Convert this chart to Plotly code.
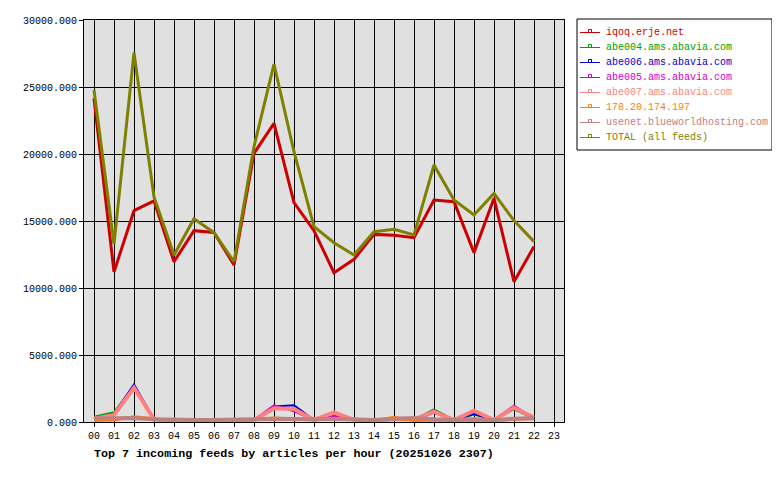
import plotly.graph_objects as go

hours = ["%02d" % h for h in range(24)]
x_idx = list(range(23))

iqoq = [24150, 11200, 15770, 16500, 11960, 14280, 14150, 11720, 20050, 22290, 16370, 14280, 11140, 12140, 14000, 13930, 13760, 16570, 16440, 12640, 16690, 10470, 13090]
abe004 = [400, 720, 2700, 200, 80, 100, 100, 100, 150, 1100, 1000, 150, 350, 150, 100, 200, 150, 940, 150, 550, 150, 950, 250]
abe006 = [250, 600, 2810, 200, 80, 100, 100, 100, 150, 1150, 1250, 150, 300, 150, 100, 200, 150, 700, 150, 600, 150, 1150, 250]
abe005 = [300, 550, 2650, 200, 80, 100, 200, 100, 150, 1250, 800, 150, 470, 150, 150, 200, 150, 700, 150, 750, 150, 1220, 300]
abe007 = [250, 520, 2560, 200, 80, 100, 100, 100, 150, 1020, 970, 150, 720, 150, 100, 200, 200, 770, 150, 850, 150, 1070, 330]
ip178 = [120, 150, 400, 270, 100, 100, 100, 100, 150, 300, 200, 150, 270, 200, 100, 350, 100, 150, 100, 150, 100, 200, 250]
usenet = [270, 250, 300, 200, 150, 150, 150, 150, 200, 250, 200, 200, 250, 200, 150, 250, 300, 200, 150, 200, 150, 250, 300]
total = [24780, 13280, 27560, 16800, 12460, 15170, 14130, 11960, 20550, 26700, 20170, 14580, 13380, 12460, 14200, 14380, 13960, 19180, 16570, 15450, 17060, 15030, 13460]

names = ["iqoq.erje.net", "abe004.ams.abavia.com", "abe006.ams.abavia.com", "abe005.ams.abavia.com",
         "abe007.ams.abavia.com", "178.20.174.197", "usenet.blueworldhosting.com", "TOTAL (all feeds)"]
series = [iqoq, abe004, abe006, abe005, abe007, ip178, usenet, total]
colors = ["#cc0000", "#00a000", "#0000cc", "#cc00cc", "#ff8080", "#ff8000", "#c08080", "#808000"]
widths = [3, 2, 2, 2, 4, 3, 4, 3]

FONT = "Liberation Mono, DejaVu Sans Mono, monospace"

# The page body has an 8px margin; target page-pixel geometry is shifted by it.
OFF = 8
W, H = 780, 480
PL, PR, PT, PB = 84, 564, 20, 422      # plot area edges in page pixels
L, T = PL - OFF, PT - OFF
R, B = W - (PR - OFF), H - (PB - OFF)
PW, PH = PR - PL, PB - PT


def px(xp):
    return (xp - PL) / PW


def py(yp):
    return (PB - yp) / PH


fig = go.Figure()
for i in range(len(series)):
    fig.add_trace(go.Scatter(x=x_idx, y=series[i], mode="lines", name=names[i],
                             line=dict(color=colors[i], width=widths[i]), showlegend=False,
                             hoverinfo="skip"))

shapes = [dict(type="rect", xref="paper", yref="paper", x0=px(577), x1=px(772), y0=py(150), y1=py(19),
               line=dict(color="black", width=1), fillcolor="white", layer="above")]
annotations = []
for i, nm in enumerate(names):
    yc = 32.5 + 15 * i
    shapes.append(dict(type="line", xref="paper", yref="paper", x0=px(580), x1=px(600), y0=py(yc), y1=py(yc),
                       line=dict(color=colors[i], width=1), layer="above"))
    shapes.append(dict(type="rect", xref="paper", yref="paper", x0=px(588.5), x1=px(591.5), y0=py(yc), y1=py(yc - 3),
                       line=dict(color=colors[i], width=1), layer="above"))
    annotations.append(dict(text=nm, xref="paper", yref="paper", x=px(604), y=py(yc), xanchor="left",
                            yanchor="middle", showarrow=False, font=dict(family=FONT, size=10, color=colors[i])))

annotations.append(dict(text="<b>Top 7 incoming feeds by articles per hour (20251026 2307)</b>",
                        xref="paper", yref="paper", x=px(92), y=py(445), xanchor="left", yanchor="top",
                        showarrow=False, font=dict(family=FONT, size=11.7, color="black")))

fig.update_layout(
    template="none",
    width=W, height=H,
    margin=dict(l=L, r=R, t=T, b=B, pad=0, autoexpand=False),
    paper_bgcolor="white", plot_bgcolor="#e0e0e0",
    font=dict(family=FONT, size=10, color="black"),
    showlegend=False,
    xaxis=dict(range=[-0.5, 23.5], tickmode="array", tickvals=list(range(24)), ticktext=hours,
               showgrid=True, gridcolor="black", gridwidth=1, zeroline=False, automargin=False,
               showline=True, linecolor="black", linewidth=1, mirror=True,
               ticks="outside", ticklen=4, tickcolor="black"),
    yaxis=dict(range=[0, 30000], tickmode="array", tickvals=[0, 5000, 10000, 15000, 20000, 25000, 30000],
               ticktext=["%.3f" % v for v in [0, 5000, 10000, 15000, 20000, 25000, 30000]],
               showgrid=True, gridcolor="black", gridwidth=1, zeroline=False, automargin=False,
               showline=True, linecolor="black", linewidth=1, mirror=True,
               ticks="outside", ticklen=4, tickcolor="black"),
    shapes=shapes,
    annotations=annotations,
)

fig.write_html("out.html")
